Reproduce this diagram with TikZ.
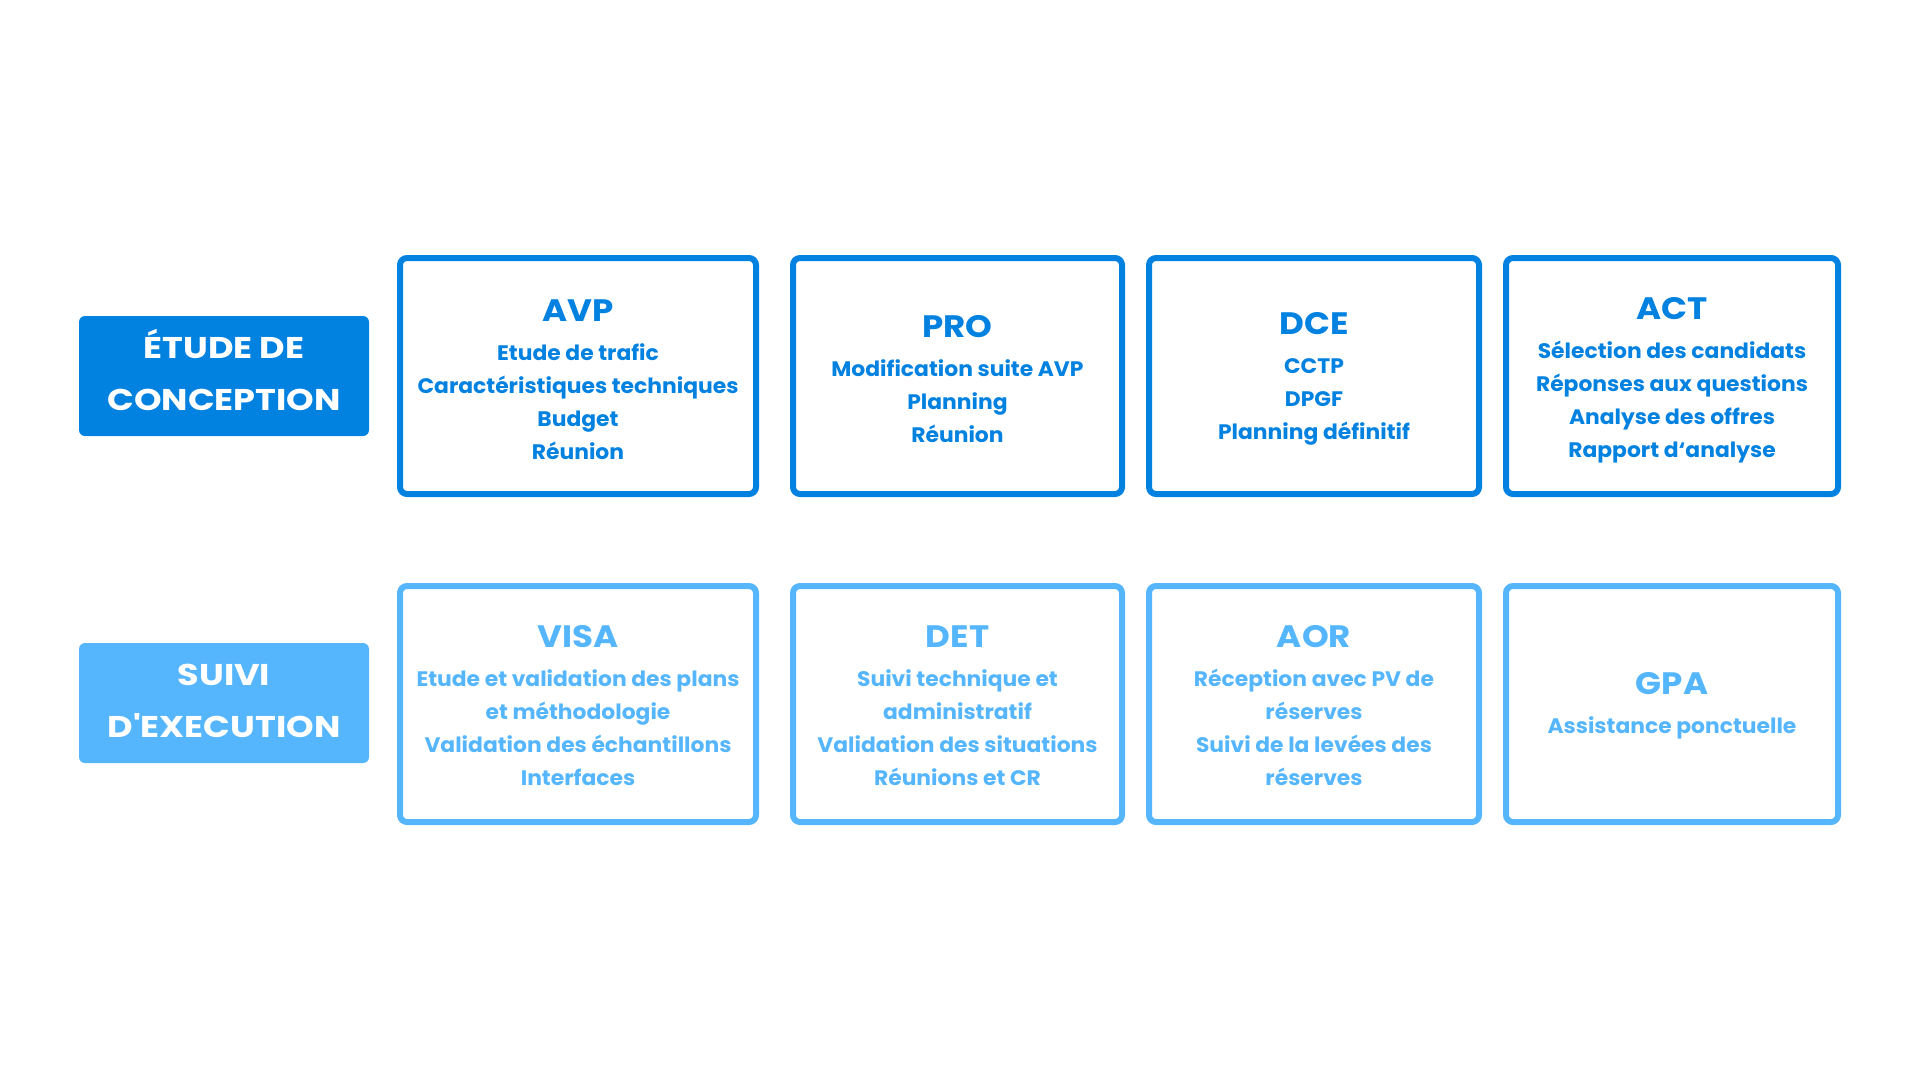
\documentclass[tikz,border=0pt]{standalone}
\usepackage{fontspec}
\setmainfont{Poppins}[Ligatures=TeXOff]
\newfontfamily\stagefont{Poppins}[Ligatures=TeXOff, FakeStretch=1.17]
\newfontfamily\titlefont{Poppins}[Ligatures=TeXOff, FakeStretch=1.1]
\newfontfamily\bodyfont{Poppins}[Ligatures=TeXOff, FakeStretch=1.04]
\definecolor{darkblue}{HTML}{0181E0}
\definecolor{lightblue}{HTML}{55B6FE}
\begin{document}
\begin{tikzpicture}[x=1pt,y=-1pt,
  phase/.style={draw, line width=6pt, rounded corners=7pt, minimum height=236pt, inner sep=0pt},
  dk/.style={phase, draw=darkblue},
  lt/.style={phase, draw=lightblue},
  content/.style={align=center, inner sep=0pt, font=\bodyfont\bfseries\fontsize{21}{33}\selectfont},
  stage/.style={rounded corners=6pt, minimum width=290pt, minimum height=120pt, inner sep=0pt},
  stagetext/.style={align=center, text=white, inner sep=0pt, font=\stagefont\bfseries\fontsize{30}{52}\selectfont}]
\useasboundingbox (0,0) rectangle (1920,1080);
\newcommand{\ttl}[1]{{\titlefont\bfseries\fontsize{31}{33}\selectfont #1}\\[6pt]}
% stage labels
\node[stage, fill=darkblue] (etude) at (224,376) {};
\node[stagetext] (etudetxt) at ([yshift=6pt]etude.center) {ÉTUDE DE\\CONCEPTION};
\node[stage, fill=lightblue] (suivi) at (224,703) {};
\node[stagetext] (suivitxt) at ([yshift=2pt]suivi.center) {SUIVI\\D'EXECUTION};
% top row
\node[dk, minimum width=356pt] (avp) at (578,376) {};
\node[dk, minimum width=329pt] (pro) at (957.5,376) {};
\node[dk, minimum width=330pt] (dce) at (1314,376) {};
\node[dk, minimum width=332pt] (act) at (1672,376) {};
\node[content, text=darkblue] (avptxt) at ([yshift=-4pt]avp.center) {\ttl{AVP}Etude de trafic\\Caractéristiques techniques\\Budget\\Réunion};
\node[content, text=darkblue] (protxt) at ([yshift=-3pt]pro.center) {\ttl{PRO}Modification suite AVP\\Planning\\Réunion};
\node[content, text=darkblue] (dcetxt) at ([yshift=-3pt]dce.center) {\ttl{DCE}CCTP\\DPGF\\Planning définitif};
\node[content, text=darkblue] (acttxt) at ([yshift=-4pt]act.center) {\ttl{ACT}Sélection des candidats\\Réponses aux questions\\Analyse des offres\\Rapport d‘analyse};
% bottom row
\node[lt, minimum width=356pt] (visa) at (578,704) {};
\node[lt, minimum width=329pt] (det) at (957.5,704) {};
\node[lt, minimum width=330pt] (aor) at (1314,704) {};
\node[lt, minimum width=332pt] (gpa) at (1672,704) {};
\node[content, text=lightblue] (visatxt) at ([yshift=-2pt]visa.center) {\ttl{VISA}Etude et validation des plans\\et méthodologie\\Validation des échantillons\\Interfaces};
\node[content, text=lightblue] (dettxt) at ([yshift=-2pt]det.center) {\ttl{DET}Suivi technique et\\administratif\\Validation des situations\\Réunions et CR};
\node[content, text=lightblue] (aortxt) at ([yshift=-2pt]aor.center) {\ttl{AOR}Réception avec PV de\\réserves\\Suivi de la levées des\\réserves};
\node[content, text=lightblue] (gpatxt) at ([yshift=-2pt]gpa.center) {\ttl{GPA}Assistance ponctuelle};
\end{tikzpicture}
\end{document}
